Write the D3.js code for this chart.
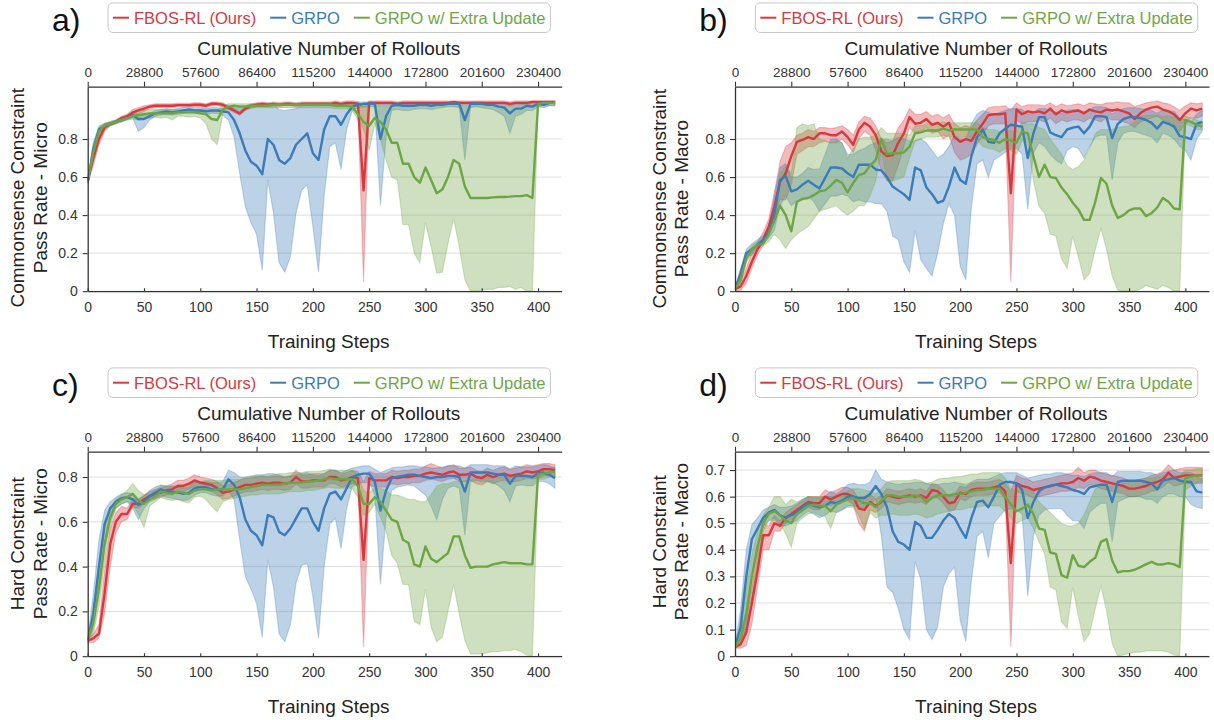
<!DOCTYPE html>
<html>
<head>
<meta charset="utf-8">
<title>FBOS-RL vs GRPO pass rates</title>
<script src="https://d3js.org/d3.v7.min.js"></script>
<style>
  body { margin: 0; background: #fff; }
  svg text { font-family: "Liberation Sans", Arial, sans-serif; }
</style>
</head>
<body>
<div id="chart"></div>
<script>

// x categories (training steps) and axis ticks
var steps = [0,5,10,15,20,25,30,35,40,45,50,55,60,65,70,75,80,85,90,95,100,105,110,115,120,125,130,135,140,145,150,155,160,165,170,175,180,185,190,195,200,205,210,215,220,225,230,235,240,245,250,255,260,265,270,275,280,285,290,295,300,305,310,315,320,325,330,335,340,345,350,355,360,365,370,375,380,385,390,395,400,405,410,415];
var stepTicks = [0, 50, 100, 150, 200, 250, 300, 350, 400];
var rolloutTicks = [0, 28800, 57600, 86400, 115200, 144000, 172800, 201600, 230400];
var rolloutsPerStep = 576;
var seriesNames = ["FBOS-RL (Ours)", "GRPO", "GRPO w/ Extra Update"];
var colors = ["#d7393e", "#3a7bb8", "#6ea544"];

// ---- a) Commonsense micro
var aRed   = [.58,.70,.80,.86,.88,.89,.91,.92,.94,.95, .96,.97,.975,.975,.975,.975,.978,.978,.978,.98, .98,.975,.985,.985,.98,.965,.95,.935,.96,.975, .98,.985,.98,.985,.98,.985,.985,.98,.985,.985, .985,.985,.985,.985,.99,.985,.99,.99,.985,.53, .99,.99,.99,.99,.99,.985,.99,.99,.99,.99, .99,.99,.99,.99,.99,.995,.99,.99,.99,.99, .99,.99,.99,.99,.99,.985,.99,.99,.99,.995, .995,.995,.995,.995];
var aRedLo = [.57,.66,.77,.84,.87,.88,.90,.91,.92,.93, .945,.96,.965,.965,.965,.965,.968,.968,.97,.97, .97,.965,.975,.975,.97,.955,.94,.925,.95,.965, .97,.975,.97,.975,.97,.975,.975,.97,.975,.975, .975,.975,.975,.975,.98,.975,.98,.98,.975,.05, .98,.98,.98,.98,.98,.975,.98,.98,.98,.98, .98,.98,.98,.98,.98,.985,.98,.98,.98,.98, .98,.98,.98,.98,.98,.975,.98,.98,.98,.985, .985,.985,.985,.985];
var aRedHi = [.59,.73,.83,.88,.89,.90,.92,.93,.955,.965, .975,.98,.985,.985,.985,.985,.988,.988,.988,.99, .99,.985,.995,.995,.99,.975,.96,.945,.97,.985, .99,.995,.99,.995,.99,.995,.995,.99,.995,.995, .995,.995,.995,.995,1,.995,1,1,.995,.97, 1,1,1,1,1,.995,1,1,1,1, 1,1,1,1,1,1,1,1,1,1, 1,1,1,1,1,.995,1,1,1,1, 1,1,1,1];
var aGrpo   = [.57,.75,.85,.87,.88,.89,.90,.91,.925,.905, .905,.92,.935,.94,.945,.94,.945,.95,.955,.95, .95,.945,.95,.95,.945,.94,.90,.83,.74,.68, .66,.615,.80,.77,.69,.67,.70,.77,.80,.83, .725,.69,.85,.92,.92,.875,.93,.97,.98,.985, .985,.985,.80,.92,.975,.98,.975,.975,.975,.98, .98,.975,.98,.98,.985,.985,.985,.90,.985,.985, .985,.98,.98,.97,.965,.935,.96,.96,.975,.97, .985,.98,.99,.99];
var aGrpoLo = [.56,.72,.83,.86,.87,.88,.89,.90,.91,.84, .86,.90,.92,.925,.93,.925,.93,.935,.94,.935, .935,.93,.935,.935,.925,.90,.81,.62,.445,.36, .30,.11,.585,.41,.15,.10,.18,.41,.53,.56, .34,.10,.50,.76,.78,.64,.85,.95,.965,.97, .97,.97,.45,.81,.95,.955,.95,.95,.955,.96, .96,.955,.96,.965,.97,.97,.965,.69,.965,.97, .965,.96,.955,.94,.92,.83,.92,.93,.95,.95, .97,.965,.975,.975];
var aGrpoHi = [.58,.78,.87,.88,.89,.90,.91,.92,.94,.93, .93,.935,.95,.955,.96,.955,.96,.965,.97,.965, .965,.96,.965,.965,.96,.965,.97,.975,.975,.98, .98,.98,.985,.98,.955,.95,.955,.96,.975,.98, .975,.975,.985,.985,.985,.985,.99,.99,.995,.995, .995,.995,.99,.99,.99,.99,.99,.99,.99,.99, .99,.99,.99,.99,.995,.995,.995,.99,.995,.995, .995,.99,.99,.99,.99,.985,.99,.99,.99,.99, .995,.995,.995,.995];
var aExtra   = [.58,.73,.84,.87,.88,.89,.90,.91,.92,.925, .93,.935,.935,.935,.935,.935,.94,.94,.94,.94, .935,.93,.905,.90,.955,.97,.975,.97,.97,.975, .975,.975,.975,.98,.98,.98,.98,.98,.98,.98, .98,.98,.98,.98,.975,.975,.975,.97,.93,.89, .87,.91,.89,.85,.78,.78,.67,.67,.60,.57, .65,.585,.515,.535,.60,.69,.67,.55,.49,.49, .49,.49,.493,.495,.495,.497,.50,.50,.505,.49, .985,.99,.99,.99];
var aExtraLo = [.57,.70,.82,.85,.87,.88,.89,.90,.905,.90, .905,.91,.915,.91,.915,.90,.92,.92,.915,.92, .91,.88,.80,.77,.93,.955,.96,.955,.955,.96, .965,.965,.965,.965,.965,.965,.965,.965,.965,.965, .965,.965,.965,.965,.96,.96,.96,.95,.90,.85, .74,.88,.80,.69,.60,.585,.35,.35,.20,.15, .36,.235,.095,.10,.25,.38,.235,.06,0,0, .005,.01,.01,.02,.02,.025,.01,.02,0,0, .97,.975,.975,.975];
var aExtraHi = [.59,.76,.86,.885,.89,.90,.91,.92,.935,.95, .95,.955,.955,.955,.955,.955,.955,.955,.955,.955, .955,.955,.95,.95,.975,.985,.985,.985,.985,.985, .985,.985,.985,.985,.985,.985,.985,.985,.985,.985, .985,.985,.985,.985,.985,.985,.985,.985,.98,.97, .97,.975,.975,.975,.975,.975,.975,.975,.975,.975, .975,.975,.975,.975,.975,.975,.975,.975,.975,.975, .975,.975,.975,.975,.975,.975,.975,.98,.98,.98, .995,.995,.995,.995];

// ---- b) Commonsense macro
var bRed   = [.01,.025,.08,.155,.22,.27,.34,.445,.575,.62, .71,.785,.795,.81,.80,.83,.83,.82,.82,.84, .81,.77,.85,.885,.865,.82,.735,.71,.715,.78, .83,.915,.88,.885,.905,.875,.885,.865,.885,.81, .785,.80,.79,.84,.88,.925,.93,.93,.935,.515, .955,.93,.945,.94,.945,.935,.96,.93,.95,.94, .945,.95,.935,.955,.945,.94,.955,.95,.955,.945, .935,.905,.935,.955,.965,.97,.955,.945,.93,.90, .935,.96,.95,.96];
var bRedLo = [0,.005,.04,.12,.19,.24,.30,.38,.48,.48, .56,.72,.74,.76,.76,.78,.79,.78,.78,.80, .77,.73,.80,.84,.82,.74,.63,.58,.58,.66, .76,.86,.83,.84,.86,.83,.84,.80,.82,.73, .69,.70,.72,.77,.82,.87,.88,.88,.88,.05, .90,.88,.89,.89,.90,.89,.91,.88,.90,.89, .90,.90,.89,.91,.90,.89,.91,.90,.90,.89, .88,.86,.89,.90,.91,.92,.90,.89,.87,.84, .88,.91,.91,.92];
var bRedHi = [.02,.05,.12,.20,.26,.31,.38,.52,.68,.76, .78,.82,.83,.85,.84,.86,.86,.855,.86,.87, .85,.82,.89,.92,.91,.87,.80,.78,.79,.86, .90,.96,.93,.93,.945,.92,.93,.91,.93,.88, .86,.87,.86,.90,.93,.965,.97,.97,.975,.95, .99,.97,.98,.98,.98,.975,.99,.97,.985,.975, .98,.985,.975,.99,.985,.98,.99,.99,.995,.99, .99,.97,.98,.99,.995,1,.99,.985,.97,.95, .975,.99,.985,.99];
var bGrpo   = [.01,.095,.20,.22,.245,.27,.305,.40,.585,.605, .525,.535,.56,.58,.56,.54,.595,.65,.65,.645, .62,.60,.665,.665,.665,.64,.635,.60,.55,.53, .51,.48,.65,.635,.545,.51,.465,.475,.55,.65, .585,.565,.71,.81,.85,.785,.78,.83,.855,.875, .87,.865,.70,.83,.915,.915,.835,.82,.81,.85, .86,.865,.83,.865,.92,.92,.915,.805,.88,.905, .915,.915,.91,.90,.885,.855,.89,.88,.865,.815, .81,.80,.88,.89];
var bGrpoLo = [0,.07,.18,.19,.22,.25,.28,.32,.45,.50, .45,.47,.49,.50,.47,.42,.46,.50,.50,.51, .50,.47,.48,.47,.47,.46,.46,.42,.29,.27, .155,.10,.32,.165,.12,.08,.20,.355,.46,.40, .13,.06,.445,.67,.69,.60,.69,.71,.73,.75, .75,.72,.43,.725,.78,.76,.72,.69,.67,.74, .76,.75,.70,.76,.81,.82,.82,.585,.78,.83, .84,.84,.83,.82,.81,.78,.83,.82,.80,.76, .74,.69,.80,.84];
var bGrpoHi = [.02,.12,.22,.25,.27,.29,.34,.50,.65,.67, .60,.60,.62,.65,.64,.64,.72,.80,.80,.78, .72,.72,.74,.75,.77,.78,.80,.80,.79,.81, .80,.79,.79,.80,.78,.74,.70,.72,.76,.82, .80,.80,.88,.93,.95,.94,.93,.94,.95,.96, .96,.955,.93,.94,.96,.96,.95,.94,.935,.95, .955,.955,.94,.955,.97,.97,.965,.93,.95,.96, .965,.965,.96,.955,.95,.935,.955,.95,.945,.91, .90,.89,.93,.95];
var bExtra   = [.01,.06,.17,.22,.245,.25,.30,.37,.45,.40, .315,.47,.485,.49,.505,.525,.53,.555,.585,.57, .52,.57,.61,.62,.66,.69,.80,.72,.725,.725, .73,.76,.83,.835,.845,.845,.845,.855,.845,.85, .85,.85,.85,.85,.81,.80,.795,.78,.80,.79, .78,.84,.83,.71,.60,.665,.60,.595,.545,.51, .465,.43,.375,.375,.47,.595,.565,.45,.385,.40, .425,.435,.435,.395,.41,.44,.49,.47,.435,.43, .90,.89,.875,.865];
var bExtraLo = [0,.04,.15,.20,.23,.24,.26,.30,.27,.225, .27,.30,.32,.34,.38,.42,.43,.44,.45,.42, .40,.42,.45,.45,.50,.58,.74,.58,.58,.59, .60,.70,.79,.80,.81,.81,.81,.82,.81,.81, .81,.81,.81,.80,.76,.75,.745,.73,.75,.74, .72,.79,.78,.585,.445,.41,.30,.29,.17,.12, .29,.18,.06,.095,.22,.33,.22,.08,.005,0, 0,0,.01,.03,.02,.01,.03,.02,0,0, .88,.87,.85,.85];
var bExtraHi = [.02,.08,.19,.24,.26,.27,.33,.45,.62,.66, .62,.86,.88,.87,.88,.80,.79,.78,.79,.78, .70,.75,.80,.81,.81,.82,.86,.83,.83,.83, .83,.82,.87,.87,.88,.88,.88,.89,.88,.885, .885,.885,.885,.885,.86,.85,.85,.84,.85,.84, .84,.89,.88,.88,.86,.85,.80,.76,.72,.66, .64,.655,.69,.75,.83,.85,.85,.85,.86,.865, .87,.89,.92,.925,.925,.925,.92,.92,.915,.91, .92,.91,.90,.89];

// ---- c) Hard micro
var cRed   = [.07,.08,.10,.28,.50,.60,.635,.635,.68,.68, .70,.715,.725,.73,.74,.745,.76,.76,.77,.785, .775,.77,.765,.75,.73,.735,.745,.755,.765,.765, .77,.775,.77,.775,.775,.77,.775,.80,.78,.78, .785,.785,.785,.80,.80,.785,.79,.80,.795,.43, .795,.785,.785,.785,.80,.795,.80,.80,.805,.805, .815,.82,.815,.81,.82,.825,.81,.81,.815,.80, .795,.81,.80,.81,.815,.805,.81,.815,.825,.82, .825,.835,.835,.83];
var cRedLo = [.06,.06,.08,.19,.40,.55,.60,.61,.665,.66, .68,.695,.705,.71,.72,.72,.735,.735,.745,.76, .75,.745,.74,.72,.70,.705,.715,.725,.735,.735, .74,.745,.74,.745,.745,.74,.745,.77,.75,.75, .755,.755,.755,.77,.77,.755,.76,.77,.765,.04, .765,.755,.755,.755,.77,.765,.77,.77,.775,.775, .785,.79,.785,.78,.79,.795,.78,.78,.785,.77, .765,.78,.77,.78,.785,.775,.78,.785,.795,.79, .795,.805,.805,.80];
var cRedHi = [.08,.10,.14,.38,.57,.64,.67,.66,.70,.70, .72,.735,.745,.75,.76,.77,.785,.785,.795,.81, .80,.795,.79,.78,.76,.765,.775,.785,.795,.795, .80,.805,.80,.805,.805,.80,.805,.83,.81,.81, .815,.815,.815,.83,.83,.815,.82,.83,.825,.78, .825,.815,.815,.815,.83,.825,.83,.83,.835,.835, .85,.86,.85,.84,.85,.855,.84,.84,.845,.83, .825,.84,.83,.84,.845,.835,.84,.845,.855,.85, .855,.86,.86,.855];
var cGrpo   = [.07,.19,.40,.59,.66,.69,.705,.71,.70,.675, .69,.715,.73,.745,.735,.735,.73,.725,.73,.75, .755,.755,.745,.745,.745,.79,.765,.71,.61,.56, .54,.495,.63,.62,.555,.54,.57,.615,.66,.66, .60,.56,.66,.725,.735,.70,.75,.80,.81,.815, .815,.78,.65,.74,.795,.80,.805,.81,.81,.805, .80,.795,.80,.80,.805,.805,.80,.735,.82,.82, .82,.82,.815,.81,.81,.77,.805,.805,.805,.80, .815,.82,.81,.795];
var cGrpoLo = [.06,.12,.30,.48,.60,.66,.68,.69,.66,.61, .66,.69,.70,.72,.71,.705,.70,.695,.70,.72, .73,.73,.72,.715,.715,.74,.70,.52,.355,.30, .235,.085,.43,.31,.10,.065,.14,.325,.405,.415, .265,.08,.40,.59,.615,.48,.66,.757,.77,.775, .775,.72,.32,.62,.74,.755,.76,.765,.76,.74, .72,.67,.61,.70,.75,.76,.75,.54,.78,.785, .78,.78,.775,.76,.74,.69,.76,.765,.76,.76, .78,.78,.77,.75];
var cGrpoHi = [.08,.28,.52,.65,.69,.71,.725,.73,.725,.70, .715,.74,.755,.765,.76,.76,.755,.75,.755,.775, .78,.78,.775,.775,.78,.83,.82,.80,.80,.805, .81,.81,.815,.815,.81,.80,.805,.81,.815,.82, .81,.805,.815,.83,.83,.82,.83,.84,.845,.85, .85,.835,.82,.83,.84,.845,.845,.85,.85,.845, .845,.84,.84,.845,.85,.85,.85,.84,.855,.855, .855,.855,.85,.85,.85,.835,.85,.845,.845,.845, .85,.855,.85,.84];
var cExtra   = [.07,.15,.30,.50,.62,.68,.70,.71,.725,.695, .68,.70,.715,.735,.73,.725,.735,.73,.725,.74, .745,.745,.74,.745,.745,.745,.745,.745,.75,.755, .76,.765,.765,.765,.765,.77,.775,.775,.775,.78, .78,.785,.79,.795,.79,.79,.79,.79,.76,.68, .68,.71,.69,.65,.61,.60,.52,.505,.41,.40, .49,.435,.42,.44,.46,.535,.535,.45,.395,.40, .40,.40,.41,.415,.42,.415,.415,.415,.41,.41, .81,.815,.82,.825];
var cExtraLo = [.06,.10,.22,.42,.58,.66,.68,.69,.68,.63, .575,.67,.69,.71,.70,.695,.70,.69,.685,.71, .715,.70,.67,.645,.69,.70,.705,.71,.715,.72, .72,.725,.725,.725,.725,.73,.735,.735,.735,.74, .74,.745,.75,.755,.75,.75,.75,.75,.71,.63, .64,.68,.62,.56,.45,.415,.32,.32,.155,.14, .30,.13,.065,.085,.20,.32,.19,.07,.01,.01, .01,.015,.02,.02,.025,.025,.03,.02,.005,0, .79,.79,.80,.80];
var cExtraHi = [.08,.22,.40,.58,.66,.70,.72,.74,.77,.74, .72,.725,.74,.76,.76,.755,.765,.765,.765,.775, .78,.785,.785,.785,.785,.79,.79,.79,.795,.80, .805,.805,.805,.81,.815,.815,.82,.82,.82,.825, .825,.825,.83,.835,.83,.83,.83,.83,.81,.74, .73,.75,.75,.74,.72,.72,.71,.70,.70,.69, .69,.72,.76,.77,.77,.78,.78,.785,.79,.79, .79,.795,.80,.80,.80,.80,.80,.80,.80,.80, .83,.835,.84,.845];

// ---- d) Hard macro
var dRed   = [.035,.045,.09,.20,.32,.455,.455,.50,.49,.52, .535,.55,.565,.58,.575,.575,.60,.59,.60,.61, .61,.60,.555,.55,.58,.565,.58,.605,.60,.595, .60,.605,.60,.605,.595,.625,.62,.60,.575,.58, .615,.61,.625,.63,.63,.63,.635,.64,.62,.35, .65,.64,.635,.625,.63,.635,.64,.645,.65,.65, .655,.67,.66,.675,.67,.66,.655,.65,.645,.64, .63,.63,.635,.64,.65,.655,.665,.69,.67,.675, .68,.68,.68,.68];
var dRedLo = [.03,.03,.04,.12,.26,.40,.40,.47,.47,.50, .515,.53,.545,.56,.55,.55,.575,.565,.575,.585, .585,.57,.50,.47,.55,.54,.555,.58,.575,.57, .575,.58,.575,.58,.57,.595,.595,.575,.545,.55, .59,.585,.60,.605,.605,.605,.61,.615,.59,.035, .62,.61,.605,.595,.60,.605,.61,.615,.62,.62, .625,.635,.63,.645,.64,.63,.625,.62,.615,.61, .60,.60,.605,.61,.62,.625,.635,.655,.64,.645, .65,.65,.65,.65];
var dRedHi = [.04,.06,.15,.26,.38,.50,.49,.53,.51,.54, .555,.57,.585,.60,.60,.60,.625,.615,.625,.635, .635,.625,.59,.60,.61,.59,.605,.63,.625,.62, .625,.63,.625,.63,.62,.65,.645,.625,.60,.61, .64,.635,.65,.655,.655,.655,.66,.665,.65,.62, .68,.67,.665,.655,.66,.665,.67,.675,.68,.685, .69,.71,.69,.70,.70,.69,.685,.68,.675,.67, .66,.66,.665,.67,.68,.685,.695,.72,.70,.705, .71,.71,.71,.71];
var dGrpo   = [.035,.11,.30,.44,.48,.52,.54,.55,.53,.52, .53,.54,.56,.575,.565,.56,.565,.58,.575,.585, .60,.60,.595,.595,.61,.64,.61,.56,.47,.43, .42,.40,.505,.49,.445,.445,.475,.51,.535,.52, .48,.445,.52,.58,.585,.56,.60,.645,.655,.655, .65,.625,.52,.58,.62,.635,.64,.645,.64,.635, .625,.62,.61,.635,.64,.645,.645,.58,.655,.66, .66,.66,.66,.655,.65,.627,.66,.665,.67,.66, .655,.655,.62,.615];
var dGrpoLo = [.03,.06,.10,.30,.42,.49,.51,.52,.49,.49, .50,.51,.53,.545,.535,.52,.53,.545,.54,.55, .565,.565,.56,.56,.57,.59,.45,.26,.24,.18, .10,.063,.355,.29,.10,.063,.11,.26,.31,.335, .135,.055,.286,.45,.47,.37,.50,.525,.55,.555, .55,.535,.225,.45,.53,.55,.555,.555,.555,.53, .51,.51,.48,.54,.56,.575,.575,.43,.58,.59, .60,.60,.60,.59,.59,.575,.60,.61,.61,.60, .60,.57,.56,.555];
var dGrpoHi = [.04,.18,.40,.495,.52,.55,.56,.57,.56,.56, .565,.575,.59,.60,.595,.595,.60,.62,.61,.625, .645,.65,.645,.645,.655,.70,.665,.655,.65,.645, .65,.65,.655,.655,.65,.645,.645,.65,.65,.655, .65,.645,.655,.665,.665,.665,.675,.685,.69,.69, .69,.68,.67,.675,.68,.685,.685,.69,.69,.685, .68,.68,.675,.685,.69,.69,.69,.675,.695,.695, .695,.695,.695,.69,.69,.68,.69,.695,.70,.69, .69,.69,.675,.665];
var dExtra   = [.035,.07,.16,.30,.41,.50,.535,.545,.53,.51, .50,.535,.55,.565,.57,.565,.565,.545,.57,.58, .59,.595,.585,.575,.575,.56,.585,.605,.605,.60, .60,.60,.605,.60,.58,.595,.605,.605,.605,.61, .61,.615,.62,.625,.625,.63,.63,.63,.60,.57, .545,.555,.57,.535,.48,.475,.39,.385,.305,.295, .38,.34,.335,.355,.37,.43,.44,.36,.315,.32, .32,.325,.335,.345,.355,.345,.345,.35,.345,.335, .67,.675,.68,.68];
var dExtraLo = [.03,.04,.08,.22,.35,.47,.51,.51,.50,.46, .41,.50,.52,.535,.54,.53,.525,.48,.54,.55, .56,.56,.53,.48,.54,.52,.53,.53,.535,.53, .53,.53,.535,.53,.52,.525,.535,.54,.545,.55, .55,.555,.56,.56,.565,.565,.565,.565,.545,.52, .50,.51,.52,.48,.43,.385,.26,.25,.13,.105, .26,.15,.055,.085,.18,.265,.17,.048,0,.005, .01,.015,.015,.02,.02,.02,.02,.015,.005,0, .625,.64,.65,.655];
var dExtraHi = [.04,.11,.26,.38,.47,.53,.56,.60,.60,.57, .59,.58,.59,.60,.60,.60,.60,.60,.605,.61, .62,.63,.63,.625,.62,.61,.63,.655,.66,.66, .66,.66,.665,.66,.65,.655,.665,.67,.67,.675, .675,.68,.685,.685,.69,.69,.69,.69,.67,.63, .62,.63,.63,.62,.58,.56,.54,.52,.50,.49, .49,.50,.53,.58,.63,.64,.64,.64,.645,.65, .655,.66,.665,.67,.67,.675,.675,.68,.68,.68, .70,.70,.705,.705];

var panels = [
  { id: "a", letter: "a)", label: ["Commonsense Constraint", "Pass Rate - Micro"],
    left: 87.7, top: 86.7, yMax: 1.075, yTicks: [0, 0.2, 0.4, 0.6, 0.8], labelX: [-70, -47.5], labelY: 111,
    series: [[aRed, aRedLo, aRedHi], [aGrpo, aGrpoLo, aGrpoHi], [aExtra, aExtraLo, aExtraHi]] },
  { id: "b", letter: "b)", label: ["Commonsense Constraint", "Pass Rate - Macro"],
    left: 735, top: 86.7, yMax: 1.075, yTicks: [0, 0.2, 0.4, 0.6, 0.8], labelX: [-76, -54], labelY: 112,
    series: [[bRed, bRedLo, bRedHi], [bGrpo, bGrpoLo, bGrpoHi], [bExtra, bExtraLo, bExtraHi]] },
  { id: "c", letter: "c)", label: ["Hard Constraint", "Pass Rate - Micro"],
    left: 87.7, top: 451.7, yMax: 0.913, yTicks: [0, 0.2, 0.4, 0.6, 0.8], labelX: [-70, -47.5], labelY: 92,
    series: [[cRed, cRedLo, cRedHi], [cGrpo, cGrpoLo, cGrpoHi], [cExtra, cExtraLo, cExtraHi]] },
  { id: "d", letter: "d)", label: ["Hard Constraint", "Pass Rate - Macro"],
    left: 735, top: 451.7, yMax: 0.769, yTicks: [0, 0.1, 0.2, 0.3, 0.4, 0.5, 0.6, 0.7], labelX: [-76, -54], labelY: 90,
    series: [[dRed, dRedLo, dRedHi], [dGrpo, dGrpoLo, dGrpoHi], [dExtra, dExtraLo, dExtraHi]] }
];

var width = 1214, height = 720;
var plotW = 474, plotH = 204.5;
var stepMax = 421;

var svg = d3.select("#chart").append("svg")
  .attr("width", width)
  .attr("height", height)
  .style("background", "#fff");

function yFormat(d) { return d === 0 ? "0" : d3.format(".1f")(d); }

function drawPanel(p) {
  var g = svg.append("g").attr("transform", "translate(" + p.left + "," + p.top + ")");

  var x = d3.scaleLinear().domain([0, stepMax]).range([0, plotW]);
  var xTop = d3.scaleLinear().domain([0, stepMax * rolloutsPerStep]).range([0, plotW]);
  var y = d3.scaleLinear().domain([0, p.yMax]).range([plotH, 0]);

  // gridlines
  g.append("g").selectAll("line").data(p.yTicks).enter().append("line")
    .attr("x1", 0).attr("x2", plotW)
    .attr("y1", function(d) { return y(d); })
    .attr("y2", function(d) { return y(d); })
    .attr("stroke", "#dedede").attr("stroke-width", 1);

  g.append("clipPath").attr("id", "clip-" + p.id)
    .append("rect").attr("width", plotW).attr("height", plotH);
  var plot = g.append("g").attr("clip-path", "url(#clip-" + p.id + ")");

  // shaded bands
  p.series.forEach(function(s, i) {
    var area = d3.area()
      .x(function(d, j) { return x(steps[j]); })
      .y0(function(d, j) { return y(s[1][j]); })
      .y1(function(d, j) { return y(s[2][j]); });
    plot.append("path").datum(s[0])
      .attr("d", area)
      .attr("fill", colors[i]).attr("fill-opacity", 0.34)
      .attr("stroke", colors[i]).attr("stroke-opacity", 0.28).attr("stroke-width", 1.2);
  });

  // mean lines
  p.series.forEach(function(s, i) {
    var line = d3.line()
      .x(function(d, j) { return x(steps[j]); })
      .y(function(d) { return y(d); });
    plot.append("path").datum(s[0])
      .attr("d", line)
      .attr("fill", "none")
      .attr("stroke", colors[i]).attr("stroke-width", 2.4)
      .attr("stroke-linejoin", "round");
  });

  // axes
  var axB = g.append("g").attr("transform", "translate(0," + plotH + ")")
    .call(d3.axisBottom(x).tickValues(stepTicks).tickSizeInner(-3).tickSizeOuter(0).tickPadding(11));
  var axL = g.append("g")
    .call(d3.axisLeft(y).tickValues(p.yTicks).tickFormat(yFormat).tickSizeInner(5).tickSizeOuter(0).tickPadding(5));
  var axT = g.append("g")
    .call(d3.axisTop(xTop).tickValues(rolloutTicks).tickFormat(d3.format("d")).tickSizeInner(5).tickSizeOuter(0).tickPadding(5));

  [axB, axL, axT].forEach(function(ax) {
    ax.attr("font-family", "'Liberation Sans', Arial, sans-serif").attr("font-size", 14).style("color", "#333");
    ax.select(".domain").attr("stroke-width", 1.3);
    ax.selectAll(".tick line").attr("stroke-width", 1.1);
  });
  axT.attr("font-size", 13.5);

  // axis titles
  g.append("text")
    .attr("x", plotW / 2 + 4).attr("y", -31.7)
    .attr("text-anchor", "middle").style("font-size", "19px").style("fill", "#222")
    .text("Cumulative Number of Rollouts");
  g.append("text")
    .attr("x", plotW / 2 + 4).attr("y", plotH + 56.7)
    .attr("text-anchor", "middle").style("font-size", "19px").style("fill", "#222")
    .text("Training Steps");

  p.label.forEach(function(t, k) {
    g.append("text")
      .attr("transform", "translate(" + p.labelX[k] + "," + p.labelY + ") rotate(-90)")
      .attr("text-anchor", "middle").attr("dominant-baseline", "central")
      .style("font-size", "19px").style("fill", "#222")
      .text(t);
  });

  // panel letter
  g.append("text")
    .attr("x", -35.7).attr("y", -55.5)
    .style("font-size", "32px").style("fill", "#111")
    .text(p.letter);

  // legend
  var lg = g.append("g");
  var box = lg.append("rect");
  var cursor = 5;
  seriesNames.forEach(function(name, i) {
    lg.append("line")
      .attr("x1", cursor).attr("x2", cursor + 16)
      .attr("y1", 0).attr("y2", 0)
      .attr("stroke", colors[i]).attr("stroke-width", 2);
    var t = lg.append("text")
      .attr("x", cursor + 21).attr("y", 0)
      .attr("dominant-baseline", "central")
      .style("font-size", "16.5px").style("fill", colors[i])
      .text(name);
    cursor += 21 + t.node().getComputedTextLength() + (i < seriesNames.length - 1 ? 14 : 5);
  });
  box.attr("x", 0).attr("y", -14.8).attr("width", cursor).attr("height", 29.6)
    .attr("rx", 5).attr("fill", "#fff").attr("stroke", "#c8c8c8").attr("stroke-width", 1);
  lg.attr("transform", "translate(" + (plotW / 2 + 4.5 - cursor / 2) + "," + (-69) + ")");
}

panels.forEach(drawPanel);

</script>
</body>
</html>
